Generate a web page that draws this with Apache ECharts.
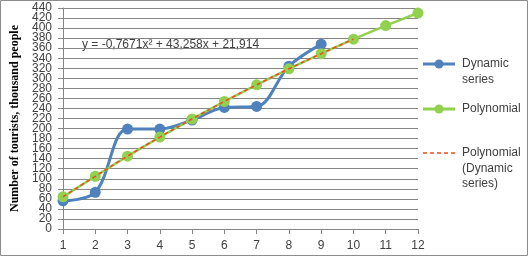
<!DOCTYPE html>
<html><head><meta charset="utf-8">
<script src="https://cdn.jsdelivr.net/npm/echarts@6/dist/echarts.min.js"></script>
<style>html,body{margin:0;padding:0;background:#fff}#c{width:528px;height:256px}</style>
</head><body><div id="c"></div>
<script>
var xValues = [1,2,3,4,5,6,7,8,9,10,11,12];
var dynamicSeries = [56,73,199,199,217,242,244,324,368];
var polynomial = [64,105,145,183,219,254,287,319,349,378,405,430];
var trendDynamic = [64,105,145,183,219,254,287,319,349,378];
var yMin = 0, yMax = 440, yStep = 20;
var yAxisTitle = 'Number of tourists, thousand people';
var equation = 'y = -0,7671x\u00B2 + 43,258x + 21,914';
var legendNames = ['Dynamic\nseries','Polynomial','Polynomial\n(Dynamic\nseries)'];

function pairs(vals){ return vals.map(function(v,i){ return [xValues[i], v]; }); }

var font = 'Liberation Sans';
var chart = echarts.init(document.getElementById('c'));
var lx = 423, tx = 462;
function legendItem(y, color, dashed, symbol, text){
  var els = [
    {type:'line', shape:{x1:lx,y1:y,x2:lx+32,y2:y}, style:{stroke:color, lineWidth: dashed?1.5:3, lineDash: dashed?[4,3]:null}}
  ];
  if(symbol) els.push({type:'circle', shape:{cx:lx+16, cy:y, r:4.5}, style:{fill:color}});
  els.push({type:'text', x:tx, y:y-8, style:{text:text, font:'12px "'+font+'"', fill:'#404040', lineHeight:15.5}});
  return els;
}
var graphics = [
  {type:'rect', shape:{x:0.5,y:0.5,width:527,height:255}, style:{fill:'none', stroke:'#8c8c8c', lineWidth:1}, z:-1},
  {type:'text', left:82, top:39, style:{text:equation, font:'12px "'+font+'"', fill:'#404040'}}
].concat(legendItem(64,'#4F81BD',false,true,legendNames[0]))
 .concat(legendItem(109,'#92D050',false,true,legendNames[1]))
 .concat(legendItem(153,'#F04A1E',true,false,legendNames[2]));

function labelFilter(parity){
  return function(v){ return (Math.round(v / yStep) % 2 === parity) ? String(v) : ''; };
}
var labelStyle = {color:'#404040', fontFamily:font, fontSize:12, margin:11, showMinLabel:true, showMaxLabel:true};

chart.setOption({
  animation:false,
  grid:{left:63, right:110, top:8, bottom:27},
  xAxis:{type:'value', min:1, max:12, interval:1,
    axisLine:{lineStyle:{color:'#868686'}},
    axisTick:{show:true, length:5, lineStyle:{color:'#868686'}},
    axisLabel:{color:'#404040', fontFamily:font, fontSize:12, margin:11, showMinLabel:true, showMaxLabel:true},
    splitLine:{show:false}},
  yAxis:[
   {type:'value', min:yMin, max:yMax, interval:yStep, position:'left',
    name:yAxisTitle, nameLocation:'middle', nameRotate:90, nameGap:39,
    nameTextStyle:{fontFamily:'Liberation Serif', fontWeight:'bold', fontSize:12, color:'#000'},
    axisLine:{show:true, lineStyle:{color:'#868686'}},
    axisTick:{show:true, length:5, lineStyle:{color:'#868686'}},
    axisLabel:Object.assign({formatter:labelFilter(0)}, labelStyle),
    splitLine:{lineStyle:{color:'#868686', width:1.2}}},
   {type:'value', min:yMin, max:yMax, interval:yStep, position:'left', offset:0,
    axisLine:{show:false}, axisTick:{show:false}, splitLine:{show:false},
    axisLabel:Object.assign({formatter:labelFilter(1)}, labelStyle)}
  ],
  series:[
    {name:'Dynamic series', type:'line', data:pairs(dynamicSeries), smooth:0.35,
     symbol:'circle', symbolSize:11, lineStyle:{color:'#4F81BD', width:3},
     itemStyle:{color:'#4F81BD'}, z:2},
    {name:'Polynomial', type:'line', data:pairs(polynomial),
     symbol:'circle', symbolSize:11, lineStyle:{color:'#92D050', width:2.5},
     itemStyle:{color:'#92D050'}, z:3},
    {name:'Polynomial (Dynamic series)', type:'line', data:pairs(trendDynamic), smooth:true,
     symbol:'none', lineStyle:{color:'#F04A1E', width:1.5, type:[4,3]}, z:4}
  ],
  graphic:graphics
});
</script></body></html>
